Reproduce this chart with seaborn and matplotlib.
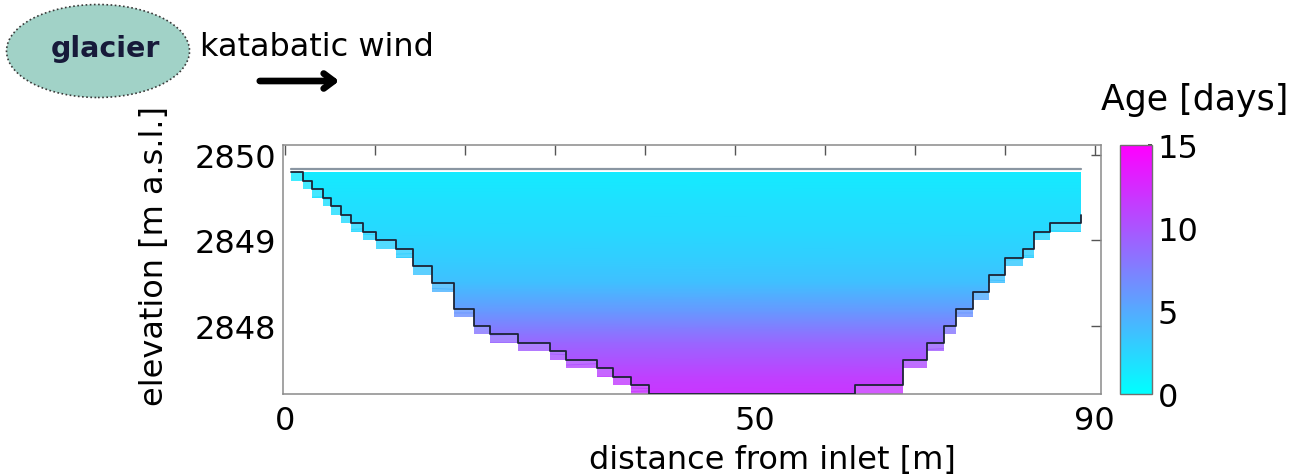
import numpy as np
import pandas as pd
import matplotlib
matplotlib.use("Agg")
import matplotlib.pyplot as plt
import matplotlib.transforms as mtransforms
import seaborn as sns
from matplotlib.patches import Polygon, Ellipse
from matplotlib.colors import Normalize
from matplotlib.cm import ScalarMappable

# ---- data ----
# bathymetry (step segments): segment edges [m] and bottom elevation [m a.s.l.]
bed_edges = [0.74, 2.04, 3.07, 4.19, 5.11, 6.22, 7.41, 8.70, 10.11, 12.41, 14.26,
             16.37, 18.81, 21.04, 22.85, 25.93, 29.44, 31.2, 34.74, 36.48, 38.44,
             40.48, 63.33, 68.70, 71.37, 73.26, 74.63, 76.48, 78.26, 80.07, 82.04,
             83.26, 85.0, 88.52]
bed_elev = [2849.8, 2849.7, 2849.6, 2849.5, 2849.4, 2849.3, 2849.2, 2849.1, 2849.0,
            2848.9, 2848.7, 2848.5, 2848.2, 2848.0, 2847.9, 2847.8, 2847.7, 2847.6,
            2847.5, 2847.4, 2847.3, 2847.2, 2847.3, 2847.6, 2847.8, 2848.0, 2848.2,
            2848.4, 2848.6, 2848.8, 2848.9, 2849.1, 2849.2]
bed_end_elev = 2849.3
layer_thickness = 0.1
water_surface = 2849.80

# water age profile with depth
age_elev = [2849.80, 2849.50, 2849.10, 2848.80, 2848.50, 2848.15, 2847.80, 2847.40, 2847.10]
age_days = [1.2, 1.7, 2.3, 2.9, 3.8, 6.2, 9.0, 11.2, 12.2]

xticks = [0, 10, 20, 30, 40, 50, 60, 70, 80, 90]
xticklabels = ["0", "", "", "", "", "50", "", "", "", "90"]
yticks = [2848, 2849, 2850]
cbar_ticks = [0, 5, 10, 15]

# ---- style ----
sns.set_theme(style="white")
plt.rcParams["font.family"] = ["DejaVu Sans"]
plt.rcParams["text.color"] = "black"
plt.rcParams["axes.labelcolor"] = "black"
plt.rcParams["xtick.color"] = "black"
plt.rcParams["ytick.color"] = "black"
FS = 23

fig = plt.figure(figsize=(13.09, 4.77), dpi=100)
ax = fig.add_axes([0.2162, 0.172, 0.6248, 0.522])
cax = fig.add_axes([0.8556, 0.172, 0.0244, 0.522])

cmap = plt.get_cmap("cool")
norm = Normalize(0, 15)

# gradient field
xg = np.array([bed_edges[0], bed_edges[-1]])
X, Y = np.meshgrid(xg, np.array(age_elev))
C = np.repeat(np.array(age_days)[:, None], 2, axis=1)


def stair(levels):
    pts = []
    for i, lv in enumerate(levels):
        pts.append((bed_edges[i], lv))
        pts.append((bed_edges[i + 1], lv))
    return pts


x0, x1 = bed_edges[0], bed_edges[-1]
poly_full = [(x0, water_surface)] + stair([e - layer_thickness for e in bed_elev]) + [(x1, water_surface)]
poly_main = [(x0, water_surface)] + stair(bed_elev) + [(x1, water_surface)]

m1 = ax.pcolormesh(X, Y, C, cmap=cmap, norm=norm, shading="gouraud", alpha=0.82, zorder=1)
m1.set_clip_path(Polygon(poly_full, closed=True, transform=ax.transData))
m2 = ax.pcolormesh(X, Y, C, cmap=cmap, norm=norm, shading="gouraud", zorder=2)
m2.set_clip_path(Polygon(poly_main, closed=True, transform=ax.transData))

# bathymetry line
line_df = pd.DataFrame({"x": bed_edges, "y": bed_elev + [bed_end_elev]})
sns.lineplot(data=line_df, x="x", y="y", ax=ax, drawstyle="steps-post", estimator=None,
             sort=False, color="#1c2436", lw=1.3, zorder=4)

# water surface
ax.plot([x0, x1], [water_surface + 0.038] * 2, color="#8a96a2", lw=1.6, zorder=3)

ax.set_xlim(-0.2, 90.7)
ax.set_ylim(2847.2, 2850.12)
ax.set_xticks(xticks)
ax.set_xticklabels(xticklabels)
ax.set_yticks(yticks)
ax.set_yticklabels([str(t) for t in yticks])
ax.tick_params(direction="in", length=7, width=1, color="#555555", top=True, right=True,
               labelsize=FS, pad=8)
ax.tick_params(axis="y", pad=5)
# the "50" label sits slightly right of its tick in the original
lab50 = ax.get_xticklabels()[5]
lab50.set_transform(lab50.get_transform() + mtransforms.ScaledTranslation(0.2, 0, fig.dpi_scale_trans))
for s in ax.spines.values():
    s.set_color("#8a8a8a")
    s.set_linewidth(1.1)
ax.set_xlabel("distance from inlet [m]", fontsize=FS)
ax.set_ylabel("elevation [m a.s.l.]", fontsize=FS)
ax.xaxis.set_label_coords(0.599, -0.202)
ax.yaxis.set_label_coords(-0.138, 0.56)

# colorbar
cb = fig.colorbar(ScalarMappable(norm=norm, cmap=cmap), cax=cax, ticks=cbar_ticks)
cb.ax.tick_params(labelsize=FS, direction="in", length=3, color="#333333", pad=4)
cb.outline.set_edgecolor("#707070")
cb.outline.set_linewidth(1.0)
fig.text(1195 / 1309, 1 - 100 / 477, "Age [days]", fontsize=25, ha="center", va="center")

# glacier annotation
ell = Ellipse((98 / 1309, 1 - 52 / 477), 183 / 1309, 93 / 477, transform=fig.transFigure,
              facecolor="#a1d2c7", edgecolor="#3a3a3a", ls=(0, (1, 1.5)), lw=1.2)
fig.add_artist(ell)
fig.text(105 / 1309, 1 - 49 / 477, "glacier", fontsize=20.5, fontweight="bold", color="#171a3a",
         ha="center", va="center")
fig.text(200 / 1309, 1 - 48 / 477, "katabatic wind", fontsize=FS, ha="left", va="center")
ax.annotate("", xy=(342 / 1309, 1 - 82 / 477), xytext=(257 / 1309, 1 - 82 / 477),
            xycoords="figure fraction", textcoords="figure fraction",
            arrowprops=dict(arrowstyle="->,head_length=0.6,head_width=0.45", lw=4.8, color="black"),
            annotation_clip=False)

fig.savefig("out.png", dpi=100)
